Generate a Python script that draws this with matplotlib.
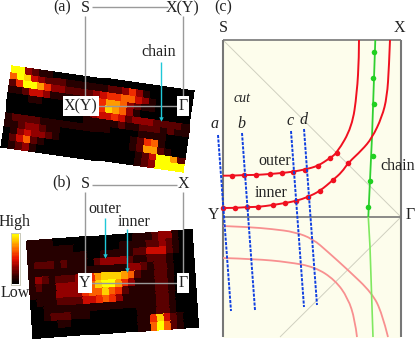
import numpy as np
import matplotlib
matplotlib.use("Agg")
import matplotlib.pyplot as plt
from matplotlib.colors import LinearSegmentedColormap
from matplotlib.path import Path
from matplotlib.patches import PathPatch

plt.rcParams['font.family'] = ['Liberation Serif', 'DejaVu Serif']

heat_a = [
 [9,9,3,2,1,1,0,0,0,0,0,0,0,0,0,0,0,0,0,0,0,0,0,0,0,0],
 [6,9,8,4,3,2,2,2,1,1,1,1,1,1,2,2,3,5,3,1,0,0,0,0,0,0],
 [2,5,9,9,7,5,3,3,2,2,2,2,3,4,5,5,6,6,4,3,1,0,0,0,0,0],
 [1,1,2,4,4,3,1,1,1,1,1,2,3,5,7,7,6,3,2,1,1,0,0,0,0,0],
 [0,0,0,1,1,0,0,0,0,0,1,1,3,5,8,7,6,3,1,0,0,0,0,0,0,0],
 [0,0,0,0,0,0,0,0,0,0,1,1,3,4,4,5,4,2,3,3,3,2,2,2,2,1],
 [0,0,0,0,0,0,0,0,0,0,0,1,1,1,1,1,2,1,1,2,2,2,1,2,1,1],
 [1,2,2,2,2,1,1,1,1,1,1,1,1,1,1,0,0,0,0,1,1,1,1,0,0,0],
 [1,1,2,3,3,2,1,1,0,0,0,0,0,0,0,0,0,0,1,2,5,6,1,0,0,0],
 [0,1,3,4,3,3,2,1,0,0,0,0,0,0,0,0,0,0,1,2,7,7,2,1,0,0],
 [0,2,4,6,2,1,0,0,0,0,0,0,0,0,0,0,0,0,0,1,2,4,9,9,7,2],
 [0,1,2,3,1,0,0,0,0,0,0,0,0,0,0,0,0,0,0,1,2,3,9,9,9,9],
]
heat_b = [
 [1,1,1,1,0,0,0,0,0,0,0,0,0,0,0,0,1,1,1,2,3,3,1,0,0],
 [1,1,1,1,1,1,1,0,0,0,0,0,0,0,1,1,1,1,2,2,3,2,1,0,0],
 [1,1,1,1,1,1,1,1,1,0,0,1,1,1,1,1,2,2,4,4,4,2,1,0,0],
 [1,2,2,2,1,2,1,1,1,0,2,3,3,3,3,2,1,1,2,2,2,1,0,0,0],
 [1,1,1,1,1,1,1,1,1,1,1,1,1,1,1,3,3,2,1,2,2,1,0,0,0],
 [1,3,2,1,2,2,2,3,3,5,7,8,8,8,7,6,2,1,1,2,2,1,0,0,0],
 [1,2,1,1,3,3,3,3,5,6,8,9,9,7,5,3,1,1,1,2,2,1,0,0,0],
 [1,1,1,1,3,3,3,3,5,6,6,8,6,5,2,1,1,1,1,2,2,1,0,0,0],
 [0,1,1,1,2,2,2,2,4,4,5,6,5,3,1,1,1,1,1,2,2,1,0,0,0],
 [0,0,1,1,1,1,1,1,1,1,1,1,1,1,1,1,1,1,1,2,2,1,0,0,0],
 [0,0,1,2,2,2,1,1,1,0,0,0,0,0,0,0,1,1,1,2,2,1,0,0,0],
 [0,0,0,0,1,1,0,0,0,0,0,0,0,0,0,0,1,1,5,8,4,2,1,0,0],
 [0,0,0,0,0,0,0,0,0,0,0,0,0,0,0,0,1,1,6,9,6,2,1,0,0],
]

outer_x = [223,232,244,256,270,282,293,305,318,330,337,352,357,359,359]
outer_y = [175.7,175.7,175,175,174,173,171.7,169.5,166,158,153,127,93,57,40]
inner_x = [223,235,247,258,273,285,296,308,320,333,342,348,362,372,382,387,389,390]
inner_y = [208,208,207,207,205,203,201,197,191,180,172,163,150,138,117,97,67,40]
outer_mark_x = [232,244,256,270,282,293,305,318,330,337]
outer_mark_y = [175.7,175,175,174,173,171.7,170,166,158,153]
inner_mark_x = [223,235,247,258,273,285,296,308,320,333,348]
inner_mark_y = [208,208,207,207,205,203,201,197,191,180,163]
mirror1_x = [223,248,272,295,313,328,348,372,382,388]
mirror1_y = [226,227,229,232,239,252,270,293,313,337]
mirror2_x = [223,255,288,315,335,348,355,357]
mirror2_y = [258,259,262,267,280,298,320,337]
chain_x = [375.3,372,370,368.3]
chain_y = [40,137,180,217]
chain_low_x = [368.3,370,373]
chain_low_y = [217,247,337]
chain_mark_x = [374,373,374,373,370,368]
chain_mark_y = [52,78,104,156,181,207]
cuts = {'a': ((218,231),(135,311)), 'b': ((242,255),(133,310)),
        'c': ((291,304),(131,307)), 'd': ((304,317),(129,305))}

fig = plt.figure(figsize=(4.15, 3.39), dpi=100)
ax = fig.add_axes([0, 0, 1, 1])
ax.set_xlim(0, 415)
ax.set_ylim(339, 0)
ax.axis('off')

cmap = LinearSegmentedColormap.from_list('h', [
    (0, '#000000'), (0.12, '#2a0000'), (0.33, '#900000'), (0.5, '#e81000'),
    (0.7, '#ff7000'), (0.85, '#ffc000'), (1, '#ffff00')])
GR = '#9a9a9a'

def heat(values, tl, tr, bl):
    v = np.array(values, float)
    r, c = v.shape
    u, w = np.meshgrid(np.linspace(0, 1, c + 1), np.linspace(0, 1, r + 1))
    X = tl[0] + u * (tr[0] - tl[0]) + w * (bl[0] - tl[0])
    Y = tl[1] + u * (tr[1] - tl[1]) + w * (bl[1] - tl[1])
    ax.pcolormesh(X, Y, v, cmap=cmap, vmin=0, vmax=9, edgecolors='face', linewidth=0.2, zorder=1)

heat(heat_a, (12, 66), (194, 91), (1, 147))
heat(heat_b, (27, 241), (192, 230), (33, 338))

def seg(x, y, color=GR, lw=1.0, z=2, **kw):
    ax.plot(x, y, color=color, lw=lw, zorder=z, solid_capstyle='butt', **kw)

def smooth(x, y, color, lw, z):
    pts = np.column_stack([x, y])
    verts = [pts[0]]
    codes = [Path.MOVETO]
    for i in range(1, len(pts) - 1):
        end = pts[i + 1] if i == len(pts) - 2 else (pts[i] + pts[i + 1]) / 2
        verts += [pts[i], end]
        codes += [Path.CURVE3, Path.CURVE3]
    ax.add_patch(PathPatch(Path(verts, codes), fc='none', ec=color, lw=lw, zorder=z, capstyle='butt'))

def t(x, y, s, size=11.5, **kw):
    ax.text(x, y, s, fontsize=size, ha='center', va='center', color='#222222', zorder=8, **kw)

def boxed(x, y, s, size=11.5):
    ax.text(x, y, s, fontsize=size, ha='center', va='center', color='#222222', zorder=8,
            bbox=dict(fc='white', ec='none', pad=1.2))

def arrow(x0, y0, x1, y1):
    seg([x0, x1], [y0, y1], color='#20c8d8', lw=1.0, z=5)
    ax.plot([x1], [y1], marker='v', ms=3.2, color='#20c8d8', mew=0, zorder=5)

# panel a
seg([92, 168], [7, 7]); seg([85, 85], [16, 106]); seg([183, 183], [16, 106]); seg([90, 178], [106, 106])
t(62, 7, '(a)'); t(85, 8, 'S'); t(183, 8, 'X(Y)'); t(159, 52, 'chain')
boxed(81, 106, 'X(Y)'); boxed(183, 106, 'Γ')
arrow(161, 62, 161, 119)

# panel b
seg([92, 177], [185, 185]); seg([85, 85], [192, 283]); seg([183, 183], [192, 283]); seg([90, 178], [283, 283])
t(62, 182, '(b)'); t(85, 184, 'S'); t(183, 184, 'X'); t(105, 209, 'outer'); t(134, 222, 'inner')
boxed(85, 283, 'Y'); boxed(183, 283, 'Γ')
arrow(105, 218, 105, 256); arrow(127, 229, 127, 270)

# colour bar
grad = np.linspace(9, 0, 40)[:, None]
ax.pcolormesh([11, 19], np.linspace(233, 284, 41), grad, cmap=cmap, vmin=0, vmax=9, zorder=1)
seg([10.5, 19.5, 19.5, 10.5, 10.5], [232.5, 232.5, 284.5, 284.5, 232.5], color='#c8c8b8', lw=0.7)
t(15, 222, 'High'); t(15, 293, 'Low')

# panel c
ax.fill_between([223, 401], 40, 338, color='#fdfdec', lw=0, zorder=0)
seg([223, 401], [40, 217], color='#d0d0c0', lw=0.7)
seg([401, 280], [217, 337], color='#d0d0c0', lw=0.7)
seg([223, 401], [40, 40], color='#777777', lw=1.2, z=3)
seg([223, 401], [217, 217], color='#777777', lw=1.2, z=3)
seg([223, 223], [40, 337], color='#777777', lw=1.5, z=3)
seg([401, 401], [40, 337], color='#777777', lw=1.5, z=3)

smooth(mirror1_x, mirror1_y, '#f89090', 1.3, 4)
smooth(mirror2_x, mirror2_y, '#f89090', 1.3, 4)
seg(chain_low_x, chain_low_y, color='#80e860', lw=1.2, z=4)
seg(chain_x, chain_y, color='#30d030', lw=1.3, z=4)
ax.plot(chain_mark_x, chain_mark_y, 'o', ms=4, color='#20d020', mew=0, zorder=5)
smooth(outer_x, outer_y, '#f01020', 1.4, 5)
smooth(inner_x, inner_y, '#f01020', 1.4, 5)
ax.plot(outer_mark_x, outer_mark_y, 'o', ms=4, color='#f01020', mew=0, zorder=6)
ax.plot(inner_mark_x, inner_mark_y, 'o', ms=4, color='#f01020', mew=0, zorder=6)

for k, (cx, cy) in cuts.items():
    ax.plot(cx, cy, color='#1040e0', lw=1.4, ls=(0, (1.6, 0.7)), zorder=7)

t(223, 7, '(c)'); t(223, 28, 'S'); t(399, 28, 'X'); t(214, 215, 'Y'); t(410, 215, 'Γ')
t(242, 98, 'cut', style='italic', size=10)
t(215, 124, 'a', style='italic'); t(241, 124, 'b', style='italic')
t(290, 121, 'c', style='italic'); t(304, 120, 'd', style='italic')
t(275, 161, 'outer'); t(271, 193, 'inner'); t(398, 166, 'chain')

fig.savefig('out.png', dpi=100)
